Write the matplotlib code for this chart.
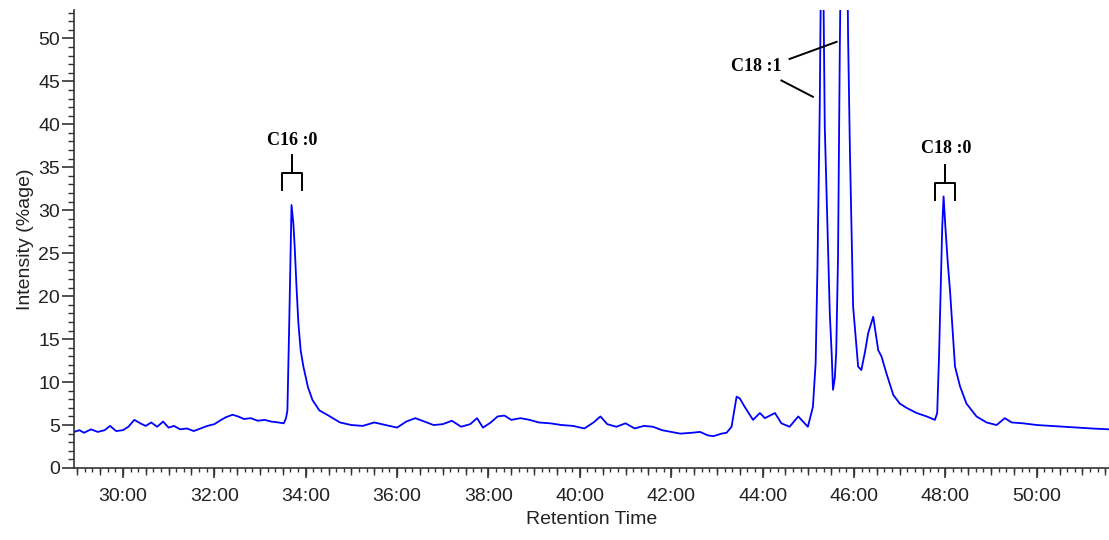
import matplotlib
matplotlib.use("Agg")
import matplotlib.pyplot as plt
from matplotlib.ticker import MultipleLocator, FuncFormatter

# chromatogram trace (retention time in minutes, intensity in %)
time_min = [28.93, 29.05, 29.15, 29.30, 29.45, 29.60, 29.72, 29.85, 30.00, 30.12,
            30.25, 30.38, 30.50, 30.62, 30.75, 30.88, 31.00, 31.12, 31.25, 31.40,
            31.55, 31.70, 31.85, 32.00, 32.12, 32.25, 32.40, 32.52, 32.65, 32.80,
            32.95, 33.10, 33.25, 33.40, 33.52, 33.57, 33.60, 33.64, 33.69, 33.73,
            33.76, 33.80, 33.84, 33.89, 33.95, 34.05, 34.15, 34.30, 34.50, 34.75,
            35.00, 35.25, 35.50, 35.75, 36.00, 36.20, 36.40, 36.60, 36.80, 37.00,
            37.20, 37.40, 37.60, 37.75, 37.88, 38.05, 38.20, 38.35, 38.50, 38.70,
            38.90, 39.10, 39.35, 39.60, 39.85, 40.10, 40.30, 40.45, 40.60, 40.80,
            41.00, 41.20, 41.40, 41.60, 41.80, 42.00, 42.20, 42.45, 42.63, 42.80,
            42.92, 43.10, 43.21, 43.32, 43.43, 43.50, 43.61, 43.79, 43.94, 44.05,
            44.27, 44.41, 44.59, 44.78, 44.99, 45.10, 45.16, 45.20, 45.25, 45.30,
            45.36, 45.43, 45.47, 45.51, 45.54, 45.58, 45.61, 45.65, 45.69, 45.79,
            45.87, 45.91, 45.98, 46.09, 46.16, 46.24, 46.31, 46.42, 46.53, 46.60,
            46.71, 46.86, 47.00, 47.15, 47.37, 47.59, 47.77, 47.82, 47.86, 47.89,
            47.93, 47.96, 48.00, 48.05, 48.10, 48.21, 48.32, 48.46, 48.68, 48.90,
            49.12, 49.30, 49.45, 49.70, 50.00, 50.30, 50.60, 50.90, 51.20, 51.58]
intensity = [4.2, 4.4, 4.1, 4.5, 4.2, 4.4, 4.9, 4.3, 4.4, 4.8,
             5.6, 5.2, 4.9, 5.3, 4.8, 5.4, 4.7, 4.9, 4.5, 4.6,
             4.3, 4.6, 4.9, 5.1, 5.5, 5.9, 6.2, 6.0, 5.7, 5.8,
             5.5, 5.6, 5.4, 5.3, 5.2, 5.8, 6.7, 16.8, 30.6, 28.5,
             25.7, 21.0, 16.9, 13.7, 11.8, 9.4, 7.9, 6.7, 6.1, 5.3,
             5.0, 4.9, 5.3, 5.0, 4.7, 5.4, 5.8, 5.4, 5.0, 5.1,
             5.5, 4.8, 5.1, 5.8, 4.7, 5.3, 6.0, 6.1, 5.6, 5.8,
             5.6, 5.3, 5.2, 5.0, 4.9, 4.6, 5.3, 6.0, 5.1, 4.8,
             5.2, 4.6, 4.9, 4.8, 4.4, 4.2, 4.0, 4.1, 4.2, 3.8,
             3.7, 4.0, 4.1, 4.8, 8.3, 8.1, 7.1, 5.6, 6.4, 5.8,
             6.4, 5.2, 4.8, 6.0, 4.8, 7.1, 12.2, 23.4, 42.0, 72.0,
             39.7, 25.7, 18.0, 13.4, 9.1, 10.5, 13.4, 24.6, 49.4, 95.0,
             50.2, 37.0, 18.8, 11.8, 11.4, 13.5, 15.7, 17.6, 13.7, 13.0,
             11.0, 8.5, 7.5, 7.0, 6.4, 6.0, 5.6, 6.4, 12.9, 19.5,
             28.0, 31.6, 28.0, 24.0, 20.7, 11.8, 9.5, 7.5, 6.0, 5.3,
             5.0, 5.8, 5.3, 5.2, 5.0, 4.9, 4.8, 4.7, 4.6, 4.5]

# peak labels
peak_names = ["C16 :0", "C18 :1", "C18 :0"]

fig = plt.figure(figsize=(11.09, 5.4), dpi=100)
ax = fig.add_axes([74 / 1109, 72 / 540, 1035 / 1109, 458 / 540])
ax.plot(time_min, intensity, color="#0000ff", lw=1.3)

ax.set_xlim(28.93, 51.58)
ax.set_ylim(0, 53.3)

for s in ["top", "right"]:
    ax.spines[s].set_visible(False)
for s in ["left", "bottom"]:
    ax.spines[s].set_color("#333333")
    ax.spines[s].set_linewidth(1.2)

sans = "Liberation Sans"
ax.xaxis.set_major_locator(MultipleLocator(2))
ax.xaxis.set_minor_locator(MultipleLocator(1 / 6))
ax.xaxis.set_major_formatter(FuncFormatter(lambda v, p: "%d:00" % round(v)))
ax.yaxis.set_major_locator(MultipleLocator(5))
ax.yaxis.set_minor_locator(MultipleLocator(1))
ax.tick_params(axis="x", which="major", length=7.5, width=1.2, color="#333333",
               labelsize=14, labelcolor="#222222", pad=7)
ax.tick_params(axis="x", which="minor", length=3, width=1.0, color="#333333")
ax.tick_params(axis="y", which="major", length=9, width=1.2, color="#333333",
               labelsize=14, labelcolor="#222222", pad=1)
ax.tick_params(axis="y", which="minor", length=4.5, width=1.0, color="#333333")
for lab in ax.get_xticklabels() + ax.get_yticklabels():
    lab.set_fontfamily(sans)

# half-minute ticks, a bit longer than the 10 s ones
sec = ax.secondary_xaxis("bottom")
sec.xaxis.set_major_locator(MultipleLocator(0.5))
sec.tick_params(length=5, width=1.0, color="#333333", labelbottom=False)
sec.spines["bottom"].set_visible(False)

ax.set_xlabel("Retention Time", fontsize=14, family=sans, color="#222222", labelpad=4)
ax.set_ylabel("Intensity (%age)", fontsize=14, family=sans, color="#222222", labelpad=3)

serif = dict(family="Liberation Serif", weight="bold", fontsize=13, ha="center", va="center")
kw = dict(color="black", lw=1.4, clip_on=False)

# C16:0 bracket
ax.text(33.70, 38.1, peak_names[0], **serif)
ax.plot([33.48, 33.48, 33.92, 33.92], [32.3, 34.3, 34.3, 32.3], **kw)
ax.plot([33.70, 33.70], [34.3, 36.4], **kw)

# C18:1 two leader lines
ax.text(43.86, 46.7, peak_names[1], **serif)
ax.plot([44.59, 45.62], [47.6, 49.6], **kw)
ax.plot([44.41, 45.10], [45.1, 43.2], **kw)

# C18:0 bracket
ax.text(48.02, 37.2, peak_names[2], **serif)
ax.plot([47.77, 47.77, 48.21, 48.21], [31.2, 33.2, 33.2, 31.2], **kw)
ax.plot([48.00, 48.00], [33.2, 35.3], **kw)

fig.savefig("out.png", dpi=100)
